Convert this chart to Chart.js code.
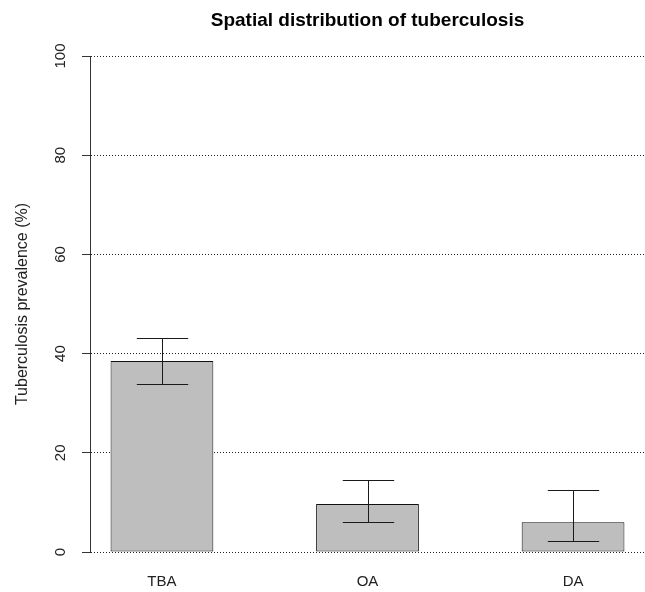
<!DOCTYPE html>
<html>
<head>
<meta charset="utf-8">
<script src="https://cdn.jsdelivr.net/npm/chart.js@4.4.1/dist/chart.umd.min.js"></script>
<style>
  html, body { margin: 0; padding: 0; background: #ffffff; }
  #wrap { width: 645px; height: 592px; }
</style>
</head>
<body>
<div id="wrap"><canvas id="chart" width="645" height="592"></canvas></div>
<script>
// Tuberculosis prevalence by area, with confidence limits
const categories = ['TBA', 'OA', 'DA'];
const prevalence = [38.5, 9.7, 6.0];
const ciLower = [33.9, 6.0, 2.2];
const ciUpper = [43.2, 14.5, 12.6];
const yTicks = [0, 20, 40, 60, 80, 100];

// barplot-style layout: unit-width bars separated by one unit of space
const barCenters = categories.map((c, i) => 1.5 + 2 * i);

const FONT = '"Liberation Sans", Arial, Helvetica, sans-serif';

// Error bars with caps, placed through the chart's own scales
const errorBars = {
  id: 'errorBars',
  afterDatasetsDraw(chart) {
    const { ctx, scales: { x, y } } = chart;
    const bars = chart.getDatasetMeta(0).data;
    ctx.save();
    ctx.strokeStyle = '#1a1a1a';
    ctx.lineWidth = 1;
    categories.forEach((c, i) => {
      const cx = Math.round(x.getPixelForValue(barCenters[i])) + 0.5;
      const half = bars[i].width / 4;
      const yl = Math.round(y.getPixelForValue(ciLower[i])) + 0.5;
      const yu = Math.round(y.getPixelForValue(ciUpper[i])) + 0.5;
      ctx.beginPath();
      ctx.moveTo(cx, yl); ctx.lineTo(cx, yu);
      ctx.moveTo(cx - half, yu); ctx.lineTo(cx + half, yu);
      ctx.moveTo(cx - half, yl); ctx.lineTo(cx + half, yl);
      ctx.stroke();
    });
    ctx.restore();
  }
};

// Y tick labels written parallel to the axis
const rotatedYLabels = {
  id: 'rotatedYLabels',
  afterDraw(chart) {
    const { ctx, scales: { y } } = chart;
    ctx.save();
    ctx.fillStyle = '#222';
    ctx.font = '15px ' + FONT;
    ctx.textAlign = 'center';
    ctx.textBaseline = 'middle';
    y.ticks.forEach(t => {
      const py = y.getPixelForValue(t.value);
      ctx.save();
      ctx.translate(61, py);
      ctx.rotate(-Math.PI / 2);
      ctx.fillText(String(t.value), 0, 0);
      ctx.restore();
    });
    ctx.restore();
  }
};

new Chart(document.getElementById('chart'), {
  type: 'bar',
  data: {
    datasets: [{
      data: categories.map((c, i) => ({ x: barCenters[i], y: prevalence[i] })),
      backgroundColor: '#bebebe',
      borderColor: '#111',
      borderWidth: 1,
      borderSkipped: false,
      barPercentage: 0.5,
      categoryPercentage: 1.0
    }]
  },
  options: {
    responsive: false,
    animation: false,
    layout: { padding: { left: 0, right: 0, top: 0, bottom: 0 } },
    plugins: {
      legend: { display: false },
      tooltip: { enabled: false },
      title: {
        display: true,
        text: 'Spatial distribution of tuberculosis',
        fullSize: false,
        color: '#000',
        font: { family: FONT, size: 19, weight: 'bold' },
        padding: { top: 9, bottom: 24.2 }
      }
    },
    scales: {
      x: {
        type: 'linear',
        min: 0.8,
        max: 6.2,
        offset: false,
        afterBuildTicks: s => { s.ticks = barCenters.map(v => ({ value: v })); },
        afterFit: s => { s.height = 40; },
        grid: { display: false, drawTicks: false, offset: false },
        border: { display: false },
        ticks: {
          padding: 21,
          color: '#222',
          font: { family: FONT, size: 15 },
          maxRotation: 0,
          autoSkip: false,
          callback: v => categories[barCenters.indexOf(v)]
        }
      },
      y: {
        min: 0,
        max: 100,
        afterBuildTicks: s => { s.ticks = yTicks.map(v => ({ value: v })); },
        afterFit: s => { s.width = 90; },
        border: { display: true, color: '#333', width: 1, dash: [1, 2] },
        grid: {
          color: '#222',
          lineWidth: 1,
          drawTicks: true,
          tickLength: 8,
          tickColor: '#333',
          tickBorderDash: [],
          tickWidth: 1
        },
        ticks: { display: false },
        title: {
          display: true,
          text: 'Tuberculosis prevalence (%)',
          color: '#222',
          font: { family: FONT, size: 16 },
          padding: { top: 13, bottom: 0 }
        }
      }
    }
  },
  plugins: [errorBars, rotatedYLabels]
});
</script>
</body>
</html>
